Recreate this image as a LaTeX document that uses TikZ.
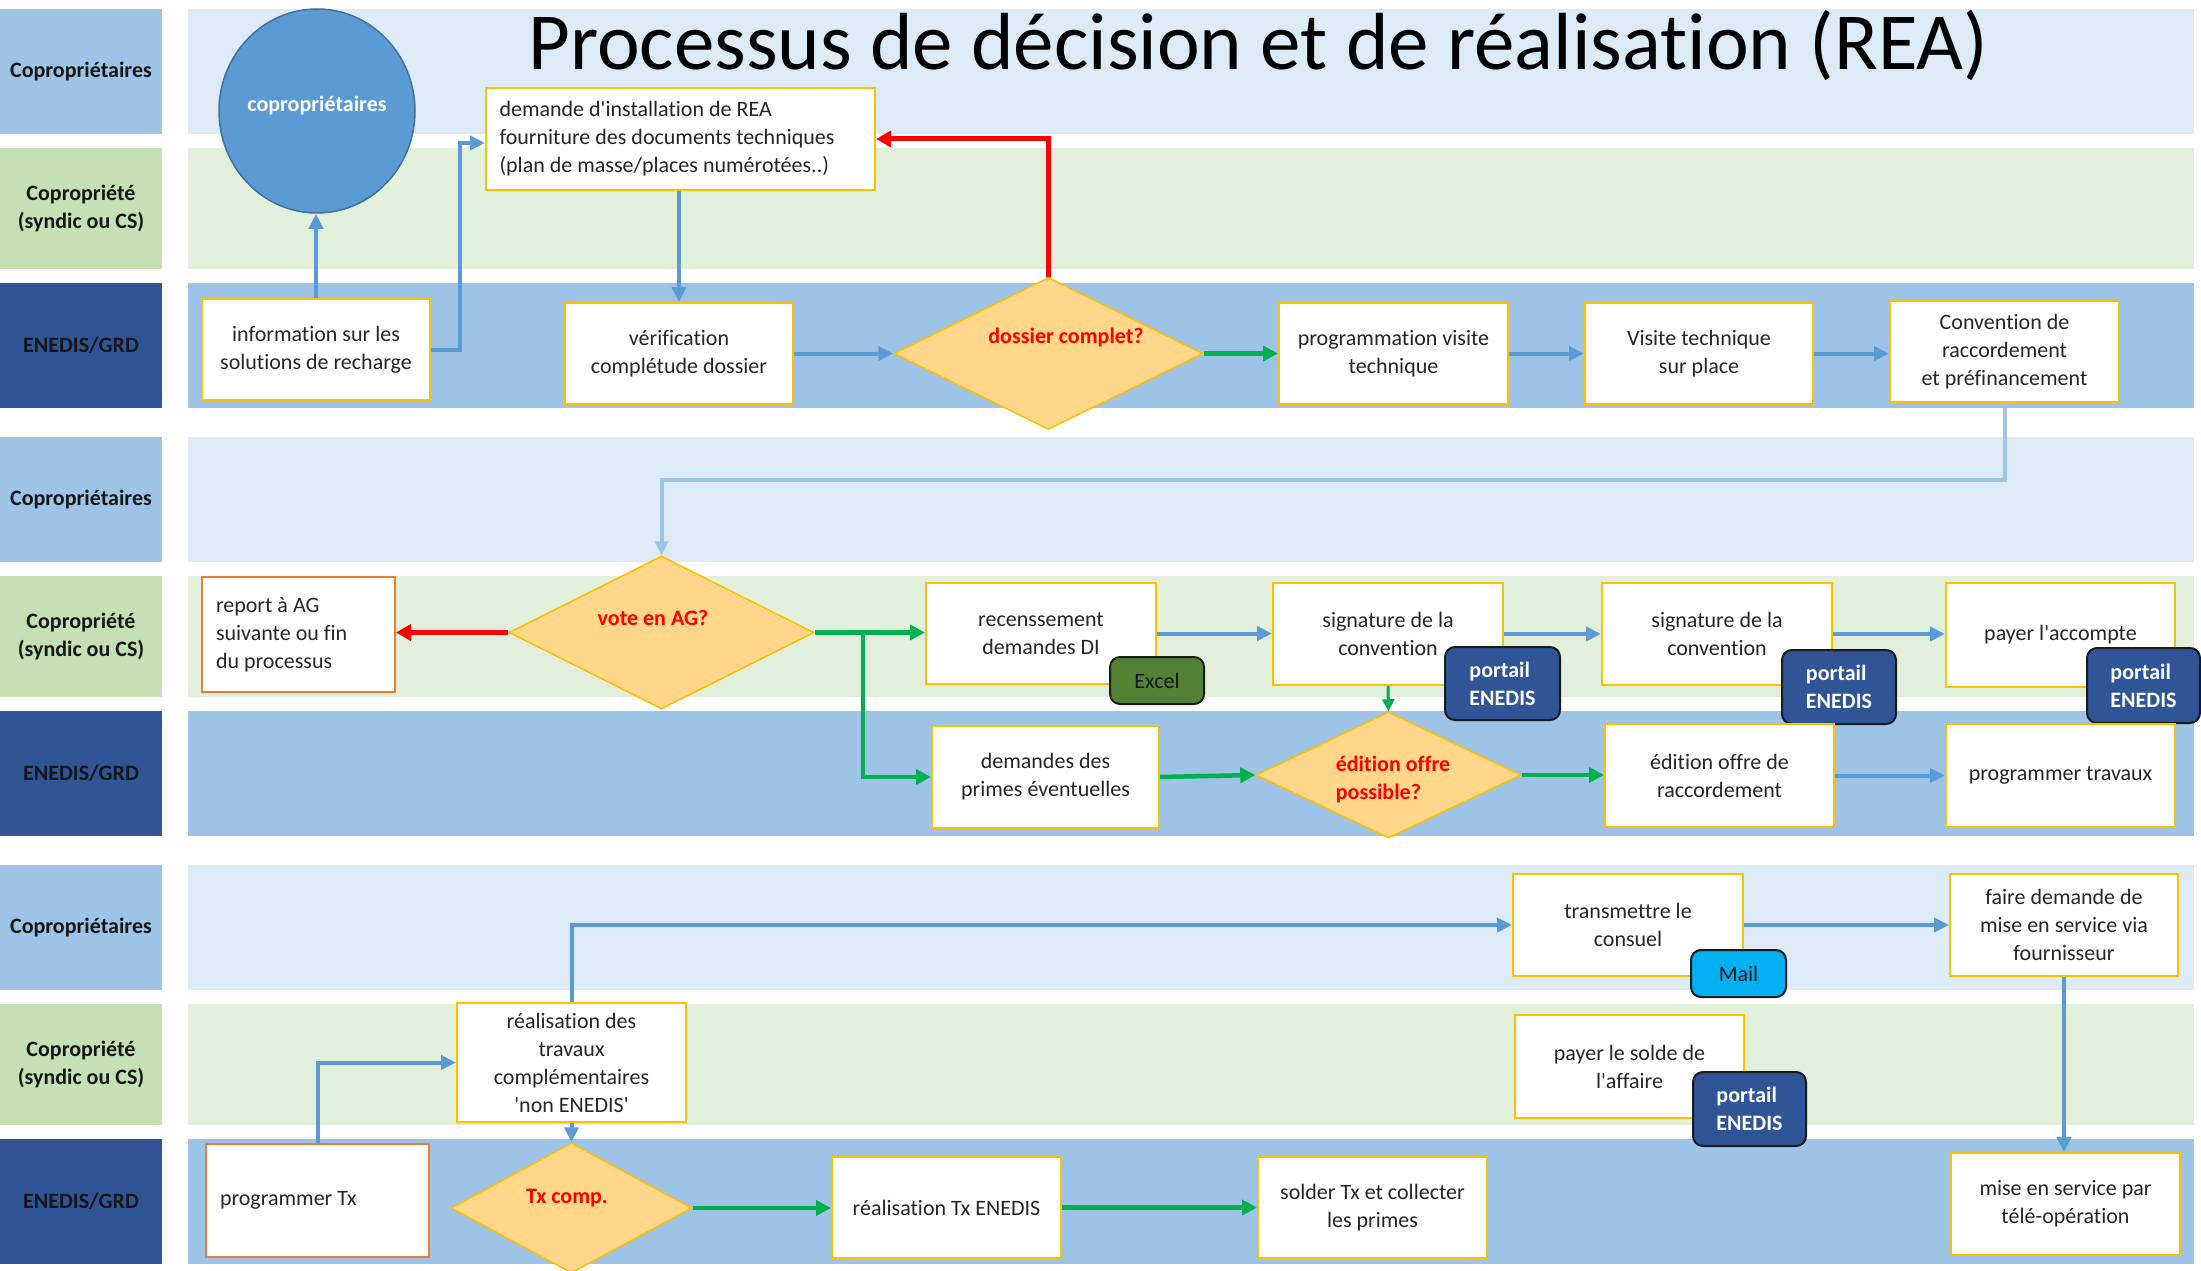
\documentclass[tikz,border=0pt]{standalone}
\usepackage{fontspec}
\setmainfont{Carlito}[Ligatures=NoCommon]
\usetikzlibrary{arrows.meta,shapes.geometric}
\definecolor{labA}{HTML}{9DC3E6}
\definecolor{bandA}{HTML}{DDEBF7}
\definecolor{labB}{HTML}{C5E0B4}
\definecolor{bandB}{HTML}{E2EFDA}
\definecolor{labC}{HTML}{2F5597}
\definecolor{bandC}{HTML}{9DC3E6}
\definecolor{gold}{HTML}{FFC000}
\definecolor{orng}{HTML}{ED7D31}
\definecolor{diaf}{HTML}{FFD68A}
\definecolor{arrb}{HTML}{5B9BD5}
\definecolor{arrg}{HTML}{00B050}
\definecolor{arrr}{HTML}{FF0000}
\definecolor{arrl}{HTML}{9DC3E6}
\definecolor{circf}{HTML}{5B9BD5}
\definecolor{circb}{HTML}{41719C}
\definecolor{txt}{HTML}{262626}
\definecolor{lbltxt}{HTML}{161616}
\definecolor{tagb}{HTML}{1A1A1A}
\definecolor{excelf}{HTML}{548235}
\definecolor{mailf}{HTML}{00B0F0}
\definecolor{portf}{HTML}{2F5597}
\newcommand\dfont{\fontsize{22}{28}\selectfont}
\newcommand\apos{\textquotesingle}
\begin{document}
\begin{tikzpicture}[x=1pt,y=-1pt,
 box/.style={draw=gold, line width=2pt, fill=white, text=txt, align=center, font=\dfont, inner sep=3pt},
 obox/.style={box, draw=orng},
 dia/.style={diamond, draw=gold, line width=1.5pt, fill=diaf, inner sep=0pt},
 dtxt/.style={text=arrr, font=\dfont\bfseries, align=flush left, inner sep=0pt},
 tag/.style={rounded corners=10pt, draw=tagb, line width=2pt, font=\dfont, align=flush left, inner sep=2pt},
 portal/.style={tag, fill=portf, text=white, font=\dfont\bfseries},
 lbl/.style={text=lbltxt, font=\dfont\bfseries, align=center, minimum width=162pt, inner sep=0pt},
 barrow/.style={draw=arrb, line width=4pt, -{Triangle[length=15pt,width=14pt]}},
 garrow/.style={draw=arrg, line width=4.5pt, -{Triangle[length=15pt,width=15pt]}},
 rarrow/.style={draw=arrr, line width=5pt, -{Triangle[length=15pt,width=16pt]}},
 larrow/.style={draw=arrl, line width=4pt, -{Triangle[length=14pt,width=13pt]}},
]
\useasboundingbox (0,0) rectangle (2201,1271);
\fill[white] (0,0) rectangle (2201,1271);
\foreach \o/\n in {0/a,428/b,856/c} {
  \fill[bandA] (188,{9+\o}) rectangle (2194,{134+\o});
  \fill[bandB] (188,{148+\o}) rectangle (2194,{269+\o});
  \fill[bandC] (188,{283+\o}) rectangle (2194,{408+\o});
  \node[lbl, fill=labA, minimum height=125pt] (lanecopro\n) at (81,{71.5+\o}) {Copropriétaires};
  \node[lbl, fill=labB, minimum height=121pt] (lanecs\n) at (81,{208.5+\o}) {Copropriété\\(syndic ou CS)};
  \node[lbl, fill=labC, minimum height=125pt] (laneenedis\n) at (81,{345.5+\o}) {ENEDIS/GRD};
}
\node[anchor=base west, font=\fontsize{81}{97}\selectfont, text=black, inner sep=0pt] (title) at (528,70) {Processus de décision et de réalisation (REA)};

% group 1
\node[ellipse, fill=circf, draw=circb, line width=1.5pt, minimum width=196pt, minimum height=204pt, inner sep=0pt] (copro) at (317,111) {};
\node[text=white, font=\dfont\bfseries, inner sep=0pt] (coprotxt) at (317,106) {copropriétaires};
\node[box, minimum width=389pt, minimum height=102pt, text width=362pt, align=flush left, inner xsep=13.5pt] (demande) at (680.5,139) {demande d\apos installation de REA\\fourniture des documents techniques\\(plan de masse/places numérotées..)};
\node[box, minimum width=228pt, minimum height=101pt] (info) at (316,349.5) {information sur les\\solutions de recharge};
\node[box, minimum width=228pt, minimum height=101pt] (verif) at (679,353.5) {vérification\\complétude dossier};
\node[dia, minimum width=309pt, minimum height=152pt] (dossier) at (1048.5,353.5) {};
\node[dtxt] (dossiertxt) at (1066,338) {dossier complet?};
\node[box, minimum width=229pt, minimum height=101pt] (progvisite) at (1393.5,353.5) {programmation visite\\technique};
\node[box, minimum width=228pt, minimum height=101pt] (visite) at (1699,353.5) {Visite technique\\sur place};
\node[box, minimum width=229pt, minimum height=101pt] (convention) at (2004.5,351.5) {Convention de\\raccordement\\et préfinancement};

% group 2
\node[obox, minimum width=193pt, minimum height=115pt, text width=165pt, align=flush left, inner xsep=14pt] (report) at (298.5,634.5) {report à AG\\suivante ou fin\\du processus};
\node[dia, minimum width=305pt, minimum height=153pt] (vote) at (661.5,632.5) {};
\node[dtxt] (votetxt) at (653,618) {vote en AG?};
\node[box, minimum width=230pt, minimum height=101pt] (recens) at (1041,633.5) {recenssement\\demandes DI};
\node[box, minimum width=227pt, minimum height=102pt] (primes) at (1045.5,777) {demandes des\\primes éventuelles};
\node[tag, fill=excelf, text=lbltxt, minimum width=94pt, minimum height=47pt] (excel) at (1157,680.5) {Excel};
\node[box, minimum width=230pt, minimum height=102pt] (sig1) at (1388,634) {signature de la\\convention};
\node[portal, minimum width=115pt, minimum height=73pt] (portail1) at (1502.5,683.5) {portail\\ENEDIS};
\node[box, minimum width=230pt, minimum height=102pt] (sig2) at (1717,634) {signature de la\\convention};
\node[portal, minimum width=114pt, minimum height=74pt] (portail2) at (1839,687) {portail\\ENEDIS};
\node[box, minimum width=229pt, minimum height=104pt] (accompte) at (2060.5,635) {payer l\apos accompte};
\node[portal, minimum width=113pt, minimum height=75pt] (portail3) at (2143.5,685.5) {portail\\ENEDIS};
\node[dia, minimum width=265pt, minimum height=126pt] (editiondia) at (1388.5,775) {};
\node[dtxt] (editiontxt) at (1393,780) {édition offre\\possible?};
\node[box, minimum width=229pt, minimum height=103pt] (offre) at (1719.5,775.5) {édition offre de\\raccordement};
\node[box, minimum width=229pt, minimum height=103pt] (progtrav) at (2060.5,775.5) {programmer travaux};

% group 3
\node[box, minimum width=229pt, minimum height=119pt] (realcomp) at (571.5,1062.5) {réalisation des\\travaux\\complémentaires\\\apos non ENEDIS\apos};
\node[box, minimum width=230pt, minimum height=102pt] (consuel) at (1628,925) {transmettre le\\consuel};
\node[tag, fill=mailf, text=lbltxt, minimum width=95pt, minimum height=47pt] (mail) at (1738.5,973.5) {Mail};
\node[box, minimum width=228pt, minimum height=102pt] (fairedem) at (2064,925) {faire demande de\\mise en service via\\fournisseur};
\node[box, minimum width=229pt, minimum height=103pt] (solde) at (1629.5,1066.5) {payer le solde de\\l\apos affaire};
\node[portal, minimum width=113pt, minimum height=74pt] (portail4) at (1749.5,1109) {portail\\ENEDIS};
\node[obox, minimum width=223pt, minimum height=113pt, text width=195pt, align=flush left, inner xsep=14pt] (progtx) at (317.5,1200.5) {programmer Tx};
\node[dia, minimum width=241pt, minimum height=130pt] (txcomp) at (571.5,1208) {};
\node[dtxt] (txcomptxt) at (567,1198) {Tx comp.};
\node[box, minimum width=229pt, minimum height=101pt] (realtx) at (946.5,1207.5) {réalisation Tx ENEDIS};
\node[box, minimum width=229pt, minimum height=101pt] (solder) at (1372.5,1207.5) {solder Tx et collecter\\les primes};
\node[box, minimum width=229pt, minimum height=102pt] (miseserv) at (2065.5,1204) {mise en service par\\télé-opération};

% connectors
\draw[barrow] (info.north) -- (info.north |- copro.south);
\draw[barrow] (info.east) -- ++(29,0) |- ([yshift=-4pt]demande.west);
\draw[barrow] (verif.north |- demande.south) -- (verif.north);
\draw[barrow] (verif.east) -- (dossier.west);
\draw[rarrow] (dossier.north) |- (demande.east);
\draw[garrow] (dossier.east) -- (progvisite.west);
\draw[barrow] (progvisite.east) -- (visite.west);
\draw[barrow] (visite.east) -- (visite.east -| convention.west);
\draw[larrow] (convention.south) -- ++(0,77) -| (vote.north);
\draw[rarrow] (vote.west) -- (vote.west -| report.east);
\draw[garrow] (vote.east) -- (vote.east -| recens.west);
\draw[garrow] ([xshift=48pt]vote.east) |- (primes.west);
\draw[barrow] (recens.east) -- (recens.east -| sig1.west);
\draw[barrow] (sig1.east) -- (sig1.east -| sig2.west);
\draw[barrow] (sig2.east) -- (sig2.east -| accompte.west);
\draw[garrow, line width=3pt, -{Triangle[length=12pt,width=12pt]}] (sig1.south) -- (editiondia.north);
\draw[garrow] (primes.east) -- (editiondia.west);
\draw[garrow] (editiondia.east) -- (editiondia.east -| offre.west);
\draw[barrow] (offre.east) -- (progtrav.west);
\draw[barrow] (progtx.north) |- (realcomp.west);
\draw[barrow] (realcomp.north) |- (consuel.west);
\draw[barrow] (realcomp.south) -- (txcomp.north);
\draw[garrow] (txcomp.east) -- (txcomp.east -| realtx.west);
\draw[garrow] (realtx.east) -- (solder.west);
\draw[barrow] (consuel.east) -- (fairedem.west);
\draw[barrow] (fairedem.south) -- (fairedem.south |- miseserv.north);
\end{tikzpicture}
\end{document}
